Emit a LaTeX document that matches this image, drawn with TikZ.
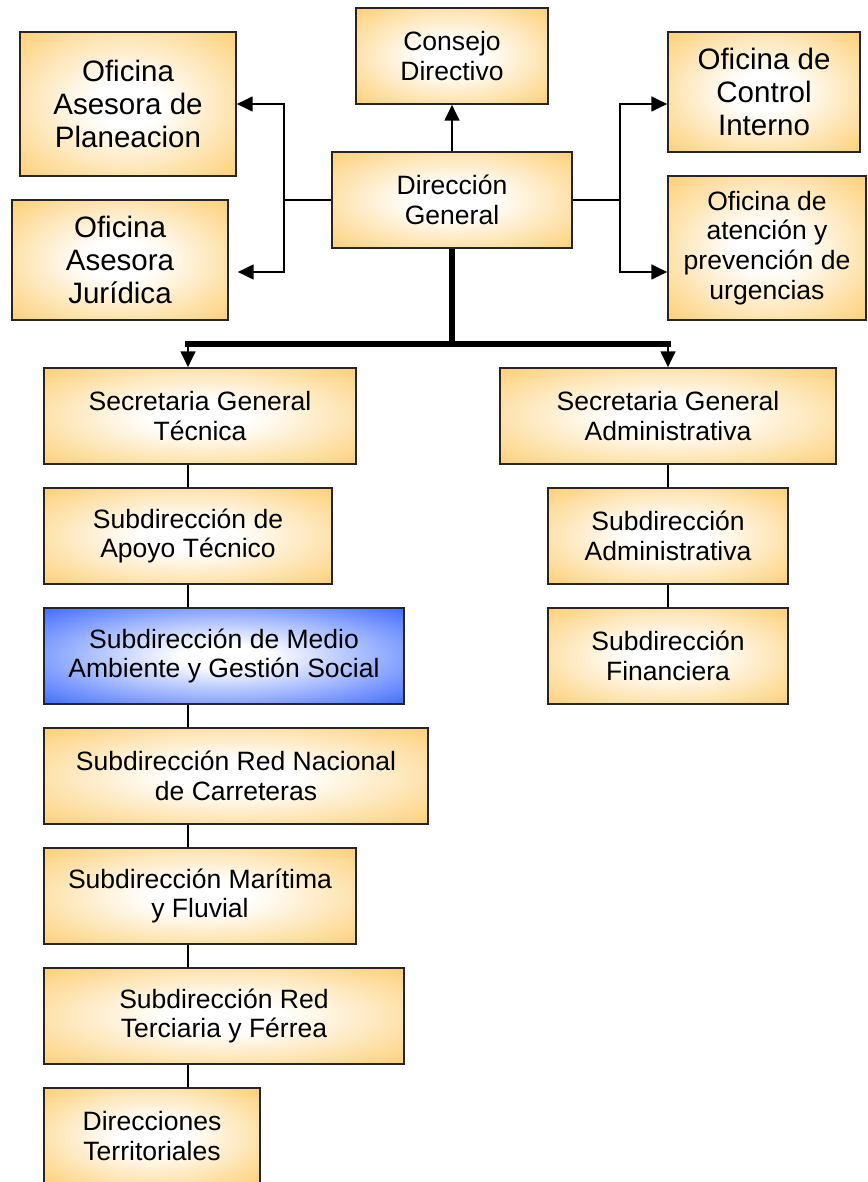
\documentclass[tikz,border=0pt]{standalone}
\usepackage{fontspec}
\setmainfont{Liberation Sans}
\usetikzlibrary{arrows.meta}
\definecolor{naranja}{RGB}{253,200,98}
\definecolor{azul}{RGB}{48,96,255}
\pgfdeclareradialshading{brillo}{\pgfpointorigin}{color(0bp)=(white); color(8bp)=(white); color(40bp)=(naranja); color(50bp)=(naranja)}
\pgfdeclareradialshading{brilloazul}{\pgfpointorigin}{color(0bp)=(white); color(6bp)=(white); color(38bp)=(azul); color(50bp)=(azul)}
\tikzset{
  caja/.style={draw=black!85, line width=1pt, shading=brillo, align=center, inner sep=0pt,
    font=\fontsize{15.1}{17}\selectfont},
  grande/.style={font=\fontsize{16.8}{19}\selectfont},
  linea/.style={line width=1pt},
  flecha/.style={line width=1pt, -{Triangle[length=9pt,width=8.5pt]}},
  grueso/.style={line width=3pt}
}
\begin{document}
\begin{tikzpicture}[x=0.02cm, y=-0.02cm]
\useasboundingbox (0,0) rectangle (867,1182);

\node[caja, minimum width=3.84cm, minimum height=1.92cm] (cd) at (452,56) {Consejo\\Directivo};
\node[caja, grande, minimum width=4.32cm, minimum height=2.88cm] (oap) at (128,104) {Oficina\\Asesora de\\Planeacion};
\node[caja, grande, minimum width=3.84cm, minimum height=2.4cm] (oci) at (764,92) {Oficina de\\Control\\Interno};
\node[caja, minimum width=4.8cm, minimum height=1.92cm] (dg) at (452,200) {Dirección\\General};
\node[caja, grande, minimum width=4.32cm, minimum height=2.4cm] (oaj) at (120,260) {Oficina\\Asesora\\Jurídica};
\node[caja, minimum width=3.96cm, minimum height=2.88cm] (oau) at (767,248) {Oficina de\\atención y\\prevención de\\urgencias};

\node[caja, minimum width=6.24cm, minimum height=1.92cm] (sgt) at (200,416) {Secretaria General\\Técnica};
\node[caja, minimum width=5.76cm, minimum height=1.92cm] (sat) at (188,536) {Subdirección de\\Apoyo Técnico};
\node[caja, shading=brilloazul, minimum width=7.2cm, minimum height=1.92cm] (sma) at (224,656) {Subdirección de Medio\\Ambiente y Gestión Social};
\node[caja, minimum width=7.68cm, minimum height=1.92cm] (srn) at (236,776) {Subdirección Red Nacional\\de Carreteras};
\node[caja, minimum width=6.24cm, minimum height=1.92cm] (smf) at (200,896) {Subdirección Marítima\\y Fluvial};
\node[caja, minimum width=7.2cm, minimum height=1.92cm] (srt) at (224,1016) {Subdirección Red\\Terciaria y Férrea};
\node[caja, minimum width=4.32cm, minimum height=1.92cm] (dt) at (152,1136) {Direcciones\\Territoriales};

\node[caja, minimum width=6.72cm, minimum height=1.92cm] (sga) at (668,416) {Secretaria General\\Administrativa};
\node[caja, minimum width=4.8cm, minimum height=1.92cm] (sad) at (668,536) {Subdirección\\Administrativa};
\node[caja, minimum width=4.8cm, minimum height=1.92cm] (sfi) at (668,656) {Subdirección\\Financiera};

\coordinate (ri) at (284,200);
\coordinate (rd) at (620,200);
\coordinate (bi) at (188,344);
\coordinate (bd) at (668,344);

\path[draw,flecha] (dg) -- (cd);
\path[draw,linea] (dg.west) -- (ri);
\path[draw,flecha] (ri) |- (oap.east);
\path[draw,flecha] (ri) |- ([xshift=0.18cm,yshift=-0.24cm]oaj.east);
\path[draw,linea] (dg.east) -- (rd);
\path[draw,flecha] (rd) |- ([yshift=-0.24cm]oci.west);
\path[draw,flecha] (rd) |- ([yshift=-0.48cm]oau.west);

\path[draw,grueso] (dg.south) -- (dg.south |- bi);
\path[draw,grueso] ([xshift=-1.5pt]bi) -- ([xshift=1.5pt]bd);
\path[draw,flecha] (bi) -- (bi |- sgt.north);
\path[draw,flecha] (bd) -- (sga);

\path[draw,linea] (sgt.south -| sat.north) -- (sat.north);
\path[draw,linea] (sat.south) -- (sat.south |- sma.north);
\path[draw,linea] (sat.south |- sma.south) -- (sat.south |- srn.north);
\path[draw,linea] (sat.south |- srn.south) -- (sat.south |- smf.north);
\path[draw,linea] (sat.south |- smf.south) -- (sat.south |- srt.north);
\path[draw,linea] (sat.south |- srt.south) -- (sat.south |- dt.north);
\path[draw,linea] (sga) -- (sad);
\path[draw,linea] (sad) -- (sfi);
\end{tikzpicture}
\end{document}
